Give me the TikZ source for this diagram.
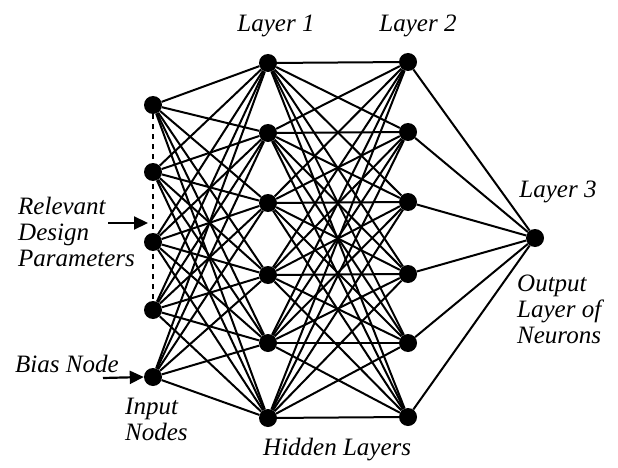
\documentclass[tikz,border=0pt]{standalone}
\usepackage{fontspec}
\setmainfont{Liberation Serif}
\usetikzlibrary{arrows.meta}

\tikzset{
  neuron/.style={circle,fill=black,inner sep=0pt,minimum size=18pt},
  wire/.style={line width=2pt},
  lbl/.style={font=\fontsize{25}{26}\selectfont\itshape,inner sep=0pt,align=left},
  pointer/.style={line width=2.2pt,-{Triangle[length=14pt,width=13pt]}}
}

\begin{document}
\begin{tikzpicture}[x=1pt,y=-1pt]
    \useasboundingbox (0,0) rectangle (618,468);
    % input nodes
    \foreach \i/\y in {1/105,2/172,3/242,4/310,5/377}
      \node[neuron] (in\i) at (153,\y) {};
    % hidden layers
    \foreach \i/\y in {1/63,2/133,3/203,4/275,5/343,6/418}
      \node[neuron] (ha\i) at (268,\y) {};
    \foreach \i/\y in {1/62,2/132,3/202,4/274,5/343,6/417}
      \node[neuron] (hb\i) at (408,\y) {};
    \node[neuron] (out) at (535,238) {};

    % connections
    \foreach \i in {1,...,5}
      \foreach \j in {1,...,6}
        \draw[wire] (in\i) -- (ha\j);
    \foreach \i in {1,...,6}
      \foreach \j in {1,...,6}
        \draw[wire] (ha\i) -- (hb\j);
    \foreach \i in {1,...,6}
      \draw[wire] (hb\i) -- (out);
    \draw[line width=2.2pt,dash pattern=on 5pt off 5pt] (in1) -- (in4);

    % labels
    \node[lbl,anchor=base] (l1) at (276,32) {Layer 1};
    \node[lbl,anchor=base] (l2) at (418,32) {Layer 2};
    \node[lbl,anchor=base] (l3) at (558,197) {Layer 3};
    \node[lbl,anchor=base west] (rdp) at (18,266) {Relevant\\Design\\Parameters};
    \node[lbl,anchor=base west] (bias) at (15,372) {Bias Node};
    \node[lbl,anchor=base west] (inl) at (125,440) {Input\\Nodes};
    \node[lbl,anchor=base west] (outl) at (517,343) {Output\\Layer of\\Neurons};
    \node[lbl,anchor=base west] (hid) at (263,455) {Hidden Layers};

    \coordinate (pa) at (108,223);
    \coordinate (pb) at (148,223);
    \coordinate (ba) at (103,378);
    \draw[pointer] (pa) -- (pb);
    \draw[pointer] (ba) -- (in5.west);
\end{tikzpicture}
\end{document}
